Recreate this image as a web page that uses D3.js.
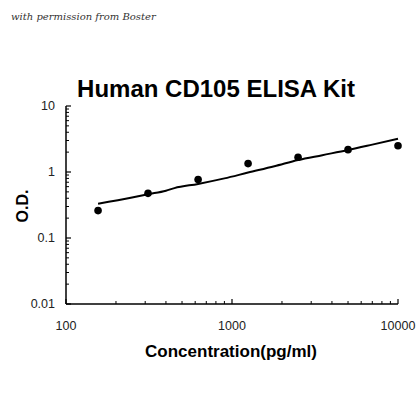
<!DOCTYPE html>
<html>
<head>
<meta charset="utf-8">
<script src="https://cdn.jsdelivr.net/npm/d3@7"></script>
<style>
  body { margin: 0; background: #fff; }
  svg { display: block; }
</style>
</head>
<body>
<svg id="chart"></svg>
<script>
// standard points (concentration pg/ml, O.D.)
const concentrations = [156, 312, 625, 1250, 2500, 5000, 10000];
const odValues = [0.26, 0.475, 0.77, 1.34, 1.67, 2.18, 2.5];

// fitted curve
const fitConc = [156, 250, 312, 400, 450, 625, 900, 1250, 1800, 2500, 3500, 5000, 7000, 10000];
const fitOD = [0.33, 0.41, 0.46, 0.52, 0.57, 0.66, 0.80, 0.98, 1.22, 1.52, 1.80, 2.15, 2.60, 3.2];

const xTicks = [100, 1000, 10000];
const yTicks = [0.01, 0.1, 1, 10];

const width = 420, height = 420;
const svg = d3.select('#chart')
    .attr('width', width)
    .attr('height', height);

const x = d3.scaleLog().domain([100, 10000]).range([66, 398]);
const y = d3.scaleLog().domain([0.01, 10]).range([304, 106]);

// watermark
svg.append('text')
    .attr('x', 11)
    .attr('y', 20)
    .style('font-family', '"DejaVu Serif", serif')
    .style('font-style', 'italic')
    .style('font-size', '10px')
    .style('fill', '#333')
    .text('with permission from Boster');

svg.append('text')
    .attr('x', 216)
    .attr('y', 97)
    .attr('text-anchor', 'middle')
    .style('font-family', 'Arial, "Liberation Sans", sans-serif')
    .style('font-weight', 'bold')
    .style('font-size', '24px')
    .text('Human CD105 ELISA Kit');

// minor ticks for log axes
const minor = (lo, hi) => {
    const out = [];
    for (let p = lo; p < hi; p *= 10) {
        for (let k = 2; k <= 9; k++) out.push(p * k);
    }
    return out;
};

const axisColor = '#000';

// y axis
svg.append('line')
    .attr('x1', x(100)).attr('x2', x(100))
    .attr('y1', y(10)).attr('y2', y(0.01))
    .style('stroke', axisColor).style('stroke-width', 1.5);

svg.selectAll('.ymajor')
    .data(yTicks)
    .enter()
    .append('line')
    .attr('x1', x(100)).attr('x2', x(100) + 5)
    .attr('y1', d => y(d)).attr('y2', d => y(d))
    .style('stroke', axisColor).style('stroke-width', 1.2);

svg.selectAll('.yminor')
    .data(minor(0.01, 10))
    .enter()
    .append('line')
    .attr('x1', x(100)).attr('x2', x(100) + 3)
    .attr('y1', d => y(d)).attr('y2', d => y(d))
    .style('stroke', axisColor).style('stroke-width', 1);

svg.selectAll('.ylabel')
    .data(yTicks)
    .enter()
    .append('text')
    .attr('x', 55)
    .attr('y', d => y(d))
    .attr('dy', '0.35em')
    .attr('text-anchor', 'end')
    .style('font-family', 'Arial, "Liberation Sans", sans-serif')
    .style('font-size', '12.5px')
    .style('fill', '#222')
    .text(d => d);

// x axis
svg.append('line')
    .attr('x1', x(100)).attr('x2', x(10000))
    .attr('y1', y(0.01)).attr('y2', y(0.01))
    .style('stroke', axisColor).style('stroke-width', 1.5);

svg.selectAll('.xmajor')
    .data(xTicks)
    .enter()
    .append('line')
    .attr('x1', d => x(d)).attr('x2', d => x(d))
    .attr('y1', y(0.01)).attr('y2', y(0.01) - 5)
    .style('stroke', axisColor).style('stroke-width', 1.2);

svg.selectAll('.xminor')
    .data(minor(100, 10000))
    .enter()
    .append('line')
    .attr('x1', d => x(d)).attr('x2', d => x(d))
    .attr('y1', y(0.01)).attr('y2', y(0.01) - 3)
    .style('stroke', axisColor).style('stroke-width', 1);

svg.selectAll('.xlabel')
    .data(xTicks)
    .enter()
    .append('text')
    .attr('x', d => x(d))
    .attr('y', 330)
    .attr('text-anchor', 'middle')
    .style('font-family', 'Arial, "Liberation Sans", sans-serif')
    .style('font-size', '12.5px')
    .style('fill', '#222')
    .text(d => d);

// axis titles
svg.append('text')
    .attr('x', 231)
    .attr('y', 357)
    .attr('text-anchor', 'middle')
    .style('font-family', 'Arial, "Liberation Sans", sans-serif')
    .style('font-weight', 'bold')
    .style('font-size', '17px')
    .text('Concentration(pg/ml)');

svg.append('text')
    .attr('transform', 'translate(28,206) rotate(-90)')
    .attr('text-anchor', 'middle')
    .style('font-family', 'Arial, "Liberation Sans", sans-serif')
    .style('font-weight', 'bold')
    .style('font-size', '16px')
    .text('O.D.');

// fitted curve
const line = d3.line()
    .x(d => x(d[0]))
    .y(d => y(d[1]))
    .curve(d3.curveMonotoneX);

svg.append('path')
    .datum(fitConc.map((c, i) => [c, fitOD[i]]))
    .attr('d', line)
    .style('fill', 'none')
    .style('stroke', '#000')
    .style('stroke-width', 2);

svg.selectAll('.point')
    .data(concentrations.map((c, i) => [c, odValues[i]]))
    .enter()
    .append('circle')
    .attr('cx', d => x(d[0]))
    .attr('cy', d => y(d[1]))
    .attr('r', 3.8)
    .style('fill', '#000');
</script>
</body>
</html>
